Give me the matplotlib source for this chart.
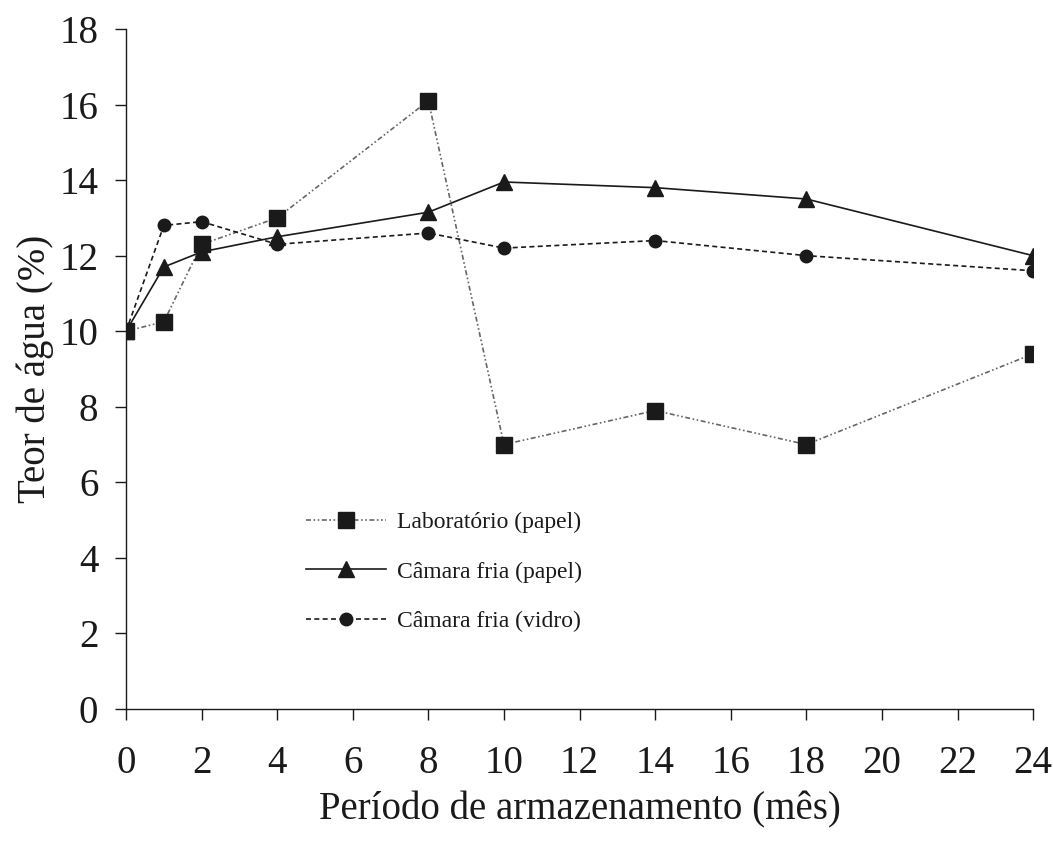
import matplotlib.pyplot as plt

plt.rcParams["font.family"] = ["Liberation Serif", "DejaVu Serif"]

# months of storage
meses = [0, 1, 2, 4, 8, 10, 14, 18, 24]

# water content (%)
lab_papel = [10.0, 10.25, 12.3, 13.0, 16.1, 7.0, 7.9, 7.0, 9.4]
camara_papel = [10.0, 11.7, 12.1, 12.5, 13.15, 13.95, 13.8, 13.5, 12.0]
camara_vidro = [10.0, 12.8, 12.9, 12.3, 12.6, 12.2, 12.4, 12.0, 11.6]

x_ticks = list(range(0, 25, 2))
y_ticks = list(range(0, 19, 2))

fig = plt.figure(figsize=(10.53, 8.43), dpi=100)
ax = fig.add_axes([0.1197, 0.159, 0.8614, 0.8066])

ax.plot(meses, lab_papel, color="#666666", linewidth=1.2,
        linestyle=(0, (3, 1.5, 1, 1.5, 1, 1.5)),
        marker="s", markersize=11, markerfacecolor="#1a1a1a",
        markeredgecolor="#1a1a1a", label="Laboratório (papel)")
ax.plot(meses, camara_papel, color="#1a1a1a", linewidth=1.2, linestyle="-",
        marker="^", markersize=11, markerfacecolor="#1a1a1a",
        markeredgecolor="#1a1a1a", label="Câmara fria (papel)")
ax.plot(meses, camara_vidro, color="#1a1a1a", linewidth=1.2,
        linestyle=(0, (3, 2)),
        marker="o", markersize=9, markerfacecolor="#1a1a1a",
        markeredgecolor="#1a1a1a", label="Câmara fria (vidro)")

ax.set_xlim(0, 24)
ax.set_ylim(0, 18)
ax.set_xticks(x_ticks)
ax.set_yticks(y_ticks)

for side in ["top", "right"]:
    ax.spines[side].set_visible(False)
ax.spines["left"].set_color("#1a1a1a")
ax.spines["bottom"].set_color("#1a1a1a")
ax.spines["left"].set_linewidth(1.0)
ax.spines["bottom"].set_linewidth(1.0)

ax.tick_params(axis="both", direction="out", length=8, width=1.0,
               colors="#1a1a1a", labelsize=28)
ax.tick_params(axis="x", pad=18)
ax.tick_params(axis="y", pad=12)

ax.set_xlabel("Período de armazenamento (mês)", fontsize=28, labelpad=7,
              color="#1a1a1a")
ax.set_ylabel("Teor de água (%)", fontsize=28, labelpad=4, color="#1a1a1a")

leg = ax.legend(loc="upper left", bbox_to_anchor=(0.175, 0.322),
                frameon=False, fontsize=17, handlelength=3.4,
                handletextpad=0.45, labelspacing=1.2)
for t in leg.get_texts():
    t.set_color("#1a1a1a")

fig.savefig("out.png", dpi=100)
